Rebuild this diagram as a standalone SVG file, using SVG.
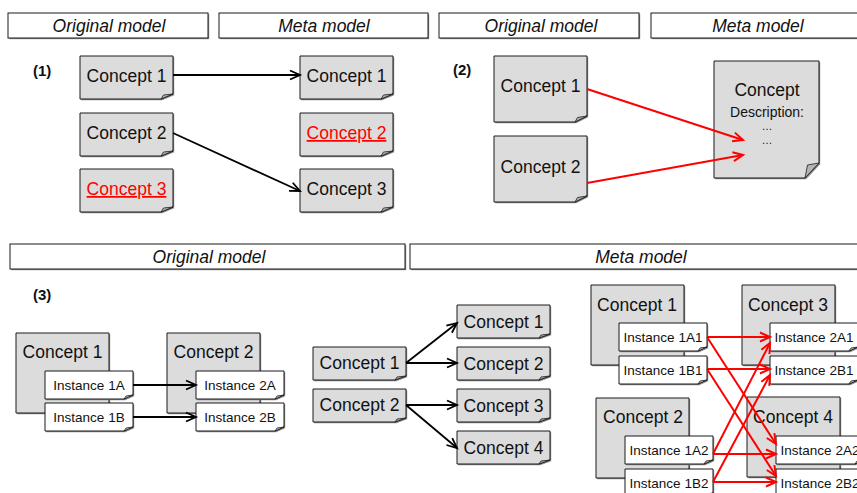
<svg xmlns="http://www.w3.org/2000/svg" xmlns:xlink="http://www.w3.org/1999/xlink" width="857" height="493" viewBox="0 0 857 493">
<style>
.node{fill:#dcdcdc;stroke:#1a1a1a;stroke-width:1}
.inst{fill:#ffffff;stroke:#1a1a1a;stroke-width:1}
.fold{fill:#b4b4b4;stroke:#1a1a1a;stroke-width:0.8}
.shadow{fill:#8c8c8c;stroke:none}
.hdr{fill:#ffffff;stroke:#1a1a1a;stroke-width:1}
text{font-family:"Liberation Sans",Arial,sans-serif;fill:#111}
.ct{font-size:17.5px;text-anchor:middle}
.it{font-size:13.5px;text-anchor:middle}
.hd{font-size:17.5px;font-style:italic;text-anchor:middle}
.lb{font-size:15px;font-weight:bold}
.red{fill:#ff0000;text-decoration:underline}
.ds{font-size:14px;text-anchor:middle}
.dt{font-size:11px;text-anchor:middle}
.bl{stroke:#000;stroke-width:1.8;fill:none;marker-end:url(#ab)}
.rd{stroke:#ff0000;stroke-width:2;fill:none;marker-end:url(#ar)}
</style>
<defs>
<marker id="ab" markerUnits="userSpaceOnUse" markerWidth="14" markerHeight="12" refX="11" refY="5" orient="auto" viewBox="0 0 14 10"><path d="M1,0.5 L11,5 L1,9.5" fill="none" stroke="#000" stroke-width="1.8"/></marker>
<marker id="ar" markerUnits="userSpaceOnUse" markerWidth="14" markerHeight="12" refX="11" refY="5" orient="auto" viewBox="0 0 14 10"><path d="M1,0.5 L11,5 L1,9.5" fill="none" stroke="#ff0000" stroke-width="2"/></marker>
<g id="n1"><path class="shadow" d="M1.2,1.2 H94.2 V39.2 L82.2,44.2 H1.2 Z"/><path class="node" d="M0,0 H93 V38 L81,43 H0 Z"/><path class="fold" d="M93,38 L81,43 L83.5,39 Z"/></g>
<g id="n2"><path class="shadow" d="M1.2,1.2 H94.2 V61.2 L82.2,67.2 H1.2 Z"/><path class="node" d="M0,0 H93 V60 L81,66 H0 Z"/><path class="fold" d="M93,60 L81,66 L83.5,61.5 Z"/></g>
<g id="nb"><path class="shadow" d="M1.2,1.2 H106.2 V103.2 L92.2,118.2 H1.2 Z"/><path class="node" d="M0,0 H105 V102 L91,117 H0 Z"/><path class="fold" d="M105,102 L91,117 L93.5,104 Z"/></g>
<g id="n3"><path class="shadow" d="M1.2,1.2 H94.2 V30.2 L83.2,34.2 H1.2 Z"/><path class="node" d="M0,0 H93 V29 L82,33 H0 Z"/><path class="fold" d="M93,29 L82,33 L84,30 Z"/></g>
<g id="c3"><path class="shadow" d="M1.2,1.2 H94.2 V81.2 H1.2 Z"/><path class="node" d="M0,0 H93 V80 H0 Z"/></g>
<g id="in"><path class="shadow" d="M1.2,1.2 H89.2 V25.2 L80.2,29.2 H1.2 Z"/><path class="inst" d="M0,0 H88 V24 L79,28 H0 Z"/><path class="fold" d="M88,24 L79,28 L81,25 Z" style="fill:#d0d0d0"/></g>
</defs>

<g id="headers">
<rect class="shadow" x="9.2" y="14.2" width="200" height="25"/><rect class="hdr" x="8" y="13" width="200" height="25"/>
<text class="hd" x="109" y="31.5">Original model</text>
<rect class="shadow" x="220.2" y="14.2" width="209" height="25"/><rect class="hdr" x="219" y="13" width="209" height="25"/>
<text class="hd" x="324" y="31.5">Meta model</text>
<rect class="shadow" x="440.2" y="14.2" width="200" height="25"/><rect class="hdr" x="439" y="13" width="200" height="25"/>
<text class="hd" x="541" y="31.5">Original model</text>
<rect class="shadow" x="652.2" y="14.2" width="215" height="25"/><rect class="hdr" x="651" y="13" width="215" height="25"/>
<text class="hd" x="758" y="31.5">Meta model</text>
<rect class="shadow" x="11.2" y="245.2" width="395" height="25"/><rect class="hdr" x="10" y="244" width="395" height="25"/>
<text class="hd" x="209" y="262.5">Original model</text>
<rect class="shadow" x="411.2" y="245.2" width="455" height="25"/><rect class="hdr" x="410" y="244" width="455" height="25"/>
<text class="hd" x="641" y="262.5">Meta model</text>
<text class="lb" x="33" y="76">(1)</text>
<text class="lb" x="453" y="75">(2)</text>
<text class="lb" x="33" y="300">(3)</text>
</g>

<!-- Panel 1 -->
<g id="p1-o-c1"><use xlink:href="#n1" x="80" y="56"/><text class="ct" x="126.5" y="82">Concept 1</text></g>
<g id="p1-o-c2"><use xlink:href="#n1" x="80" y="113"/><text class="ct" x="126.5" y="139">Concept 2</text></g>
<g id="p1-o-c3"><use xlink:href="#n1" x="80" y="169"/><text class="ct red" x="126.5" y="195">Concept 3</text></g>
<g id="p1-m-c1"><use xlink:href="#n1" x="300" y="56"/><text class="ct" x="346.5" y="82">Concept 1</text></g>
<g id="p1-m-c2"><use xlink:href="#n1" x="300" y="113"/><text class="ct red" x="346.5" y="139">Concept 2</text></g>
<g id="p1-m-c3"><use xlink:href="#n1" x="300" y="169"/><text class="ct" x="346.5" y="195">Concept 3</text></g>

<!-- Panel 2 -->
<g id="p2-o-c1"><use xlink:href="#n2" x="494" y="56"/><text class="ct" x="540.5" y="92">Concept 1</text></g>
<g id="p2-o-c2"><use xlink:href="#n2" x="494" y="136"/><text class="ct" x="540.5" y="173">Concept 2</text></g>
<g id="p2-m-c"><use xlink:href="#nb" x="714" y="61"/>
<text class="ct" x="767" y="96">Concept</text>
<text class="ds" x="767" y="116.5">Description:</text>
<text class="dt" x="767" y="130">…</text>
<text class="dt" x="767" y="144">…</text>
</g>

<!-- Panel 3 original -->
<g id="p3-o-c1"><use xlink:href="#c3" x="16" y="333"/><text class="ct" x="62.5" y="358">Concept 1</text></g>
<g id="p3-o-i1a"><use xlink:href="#in" x="45" y="371"/><text class="it" x="89" y="390">Instance 1A</text></g>
<g id="p3-o-i1b"><use xlink:href="#in" x="45" y="403"/><text class="it" x="89" y="422">Instance 1B</text></g>
<g id="p3-o-c2"><use xlink:href="#c3" x="167" y="333"/><text class="ct" x="213.5" y="358">Concept 2</text></g>
<g id="p3-o-i2a"><use xlink:href="#in" x="196" y="371"/><text class="it" x="240" y="390">Instance 2A</text></g>
<g id="p3-o-i2b"><use xlink:href="#in" x="196" y="403"/><text class="it" x="240" y="422">Instance 2B</text></g>

<!-- Panel 3 middle -->
<g id="p3-m-l1"><use xlink:href="#n3" x="313" y="347"/><text class="ct" x="359.5" y="369">Concept 1</text></g>
<g id="p3-m-l2"><use xlink:href="#n3" x="313" y="389"/><text class="ct" x="359.5" y="411">Concept 2</text></g>
<g id="p3-m-r1"><use xlink:href="#n3" x="457" y="305"/><text class="ct" x="503.5" y="327.5">Concept 1</text></g>
<g id="p3-m-r2"><use xlink:href="#n3" x="457" y="347"/><text class="ct" x="503.5" y="369.5">Concept 2</text></g>
<g id="p3-m-r3"><use xlink:href="#n3" x="457" y="389"/><text class="ct" x="503.5" y="411.5">Concept 3</text></g>
<g id="p3-m-r4"><use xlink:href="#n3" x="457" y="431"/><text class="ct" x="503.5" y="453.5">Concept 4</text></g>

<!-- Panel 3 right -->
<g id="p3-r-c1"><use xlink:href="#c3" x="591" y="285"/><text class="ct" x="637" y="311">Concept 1</text></g>
<g id="p3-r-i1a1"><use xlink:href="#in" x="619" y="323"/><text class="it" x="663" y="342">Instance 1A1</text></g>
<g id="p3-r-i1b1"><use xlink:href="#in" x="619" y="356"/><text class="it" x="663" y="375">Instance 1B1</text></g>
<g id="p3-r-c3"><use xlink:href="#c3" x="742" y="285"/><text class="ct" x="788" y="311">Concept 3</text></g>
<g id="p3-r-i2a1"><use xlink:href="#in" x="770" y="323"/><text class="it" x="814" y="342">Instance 2A1</text></g>
<g id="p3-r-i2b1"><use xlink:href="#in" x="770" y="356"/><text class="it" x="814" y="375">Instance 2B1</text></g>
<g id="p3-r-c2"><use xlink:href="#c3" x="596" y="398"/><text class="ct" x="643" y="423">Concept 2</text></g>
<g id="p3-r-i1a2"><use xlink:href="#in" x="625" y="436"/><text class="it" x="669" y="455">Instance 1A2</text></g>
<g id="p3-r-i1b2"><use xlink:href="#in" x="625" y="469"/><text class="it" x="669" y="488">Instance 1B2</text></g>
<g id="p3-r-c4"><use xlink:href="#c3" x="747" y="397"/><text class="ct" x="793" y="423">Concept 4</text></g>
<g id="p3-r-i2a2"><use xlink:href="#in" x="776" y="436"/><text class="it" x="820" y="455">Instance 2A2</text></g>
<g id="p3-r-i2b2"><use xlink:href="#in" x="776" y="469"/><text class="it" x="820" y="488">Instance 2B2</text></g>

<g id="connectors">
<path class="bl" d="M173,75 L300,75"/>
<path class="bl" d="M173,133 L300,191"/>
<path class="rd" d="M587,89 L743,140"/>
<path class="rd" d="M587,183 L743,155"/>
<path class="bl" d="M133,385 L196,385"/>
<path class="bl" d="M133,417 L196,417"/>
<path class="bl" d="M406,363 L457,323"/>
<path class="bl" d="M406,363 L457,363"/>
<path class="bl" d="M406,405 L457,405"/>
<path class="bl" d="M406,405 L457,448"/>
<path class="rd" d="M707,337 L770,337"/>
<path class="rd" d="M707,337 L776,444"/>
<path class="rd" d="M707,369 L770,369"/>
<path class="rd" d="M707,369 L776,476"/>
<path class="rd" d="M713,454 L776,454"/>
<path class="rd" d="M713,454 L770,343"/>
<path class="rd" d="M713,482 L776,482"/>
<path class="rd" d="M713,482 L770,375"/>
</g>
</svg>
